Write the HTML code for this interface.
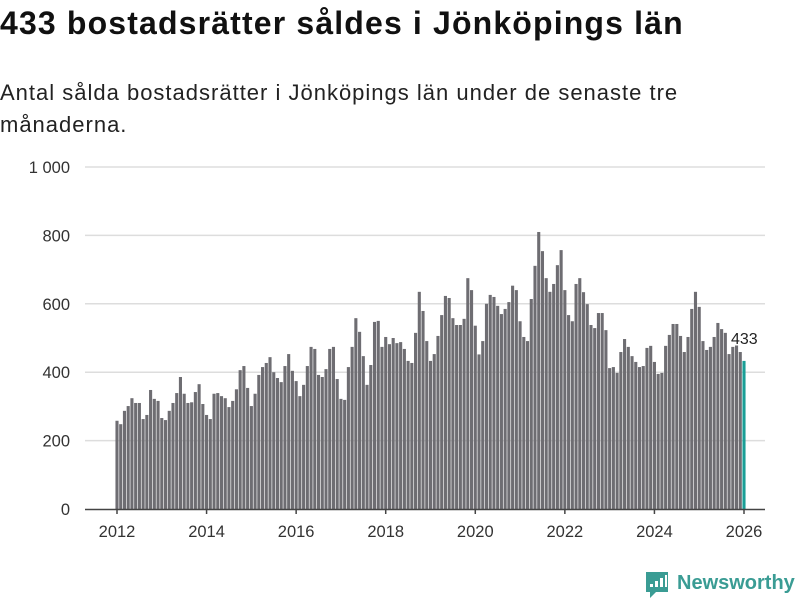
<!DOCTYPE html>
<html><head><meta charset="utf-8"><style>
body{margin:0;background:#fff;width:800px;height:600px;overflow:hidden;font-family:"Liberation Sans","DejaVu Sans",sans-serif;}
h1{position:absolute;left:0;top:5px;margin:0;font-size:32px;font-weight:bold;color:#111;letter-spacing:1.15px;white-space:nowrap}
p.sub{position:absolute;left:0;top:77px;margin:0;font-size:22px;line-height:32px;color:#222;width:700px;letter-spacing:1px}
svg{position:absolute;left:0;top:0}
</style></head><body>
<h1>433 bostadsrätter såldes i Jönköpings län</h1>
<p class="sub">Antal sålda bostadsrätter i Jönköpings län under de senaste tre månaderna.</p>
<svg id="chart" width="800" height="600"></svg>
<script>
const values = [
258,248,287,301,324,310,310,263,275,348,322,316,
266,260,287,310,339,386,337,310,312,342,365,307,
275,263,337,339,330,324,298,316,350,406,418,354,
301,337,392,415,427,444,400,383,371,418,453,404,
374,330,363,418,474,468,392,386,409,468,474,380,
322,319,415,474,558,518,447,363,421,547,550,474,
503,482,500,485,488,468,433,427,515,635,579,491,
433,453,506,567,623,617,558,538,538,556,675,640,
536,452,491,600,626,620,594,570,585,605,653,640,
549,503,491,614,711,810,754,675,635,658,713,757,
640,567,549,658,675,634,599,538,529,573,573,523,
412,415,398,459,497,474,447,430,415,418,471,477,
430,395,398,477,509,541,541,506,459,503,585,635,
591,491,465,474,503,544,526,515,453,474,480,459,
433
];
const yTicks = [0,200,400,600,800,1000];
const yTickLabels = ["0","200","400","600","800","1 000"];
const xTickYears = [2012,2014,2016,2018,2020,2022,2024,2026];
const startYear = 2012;

const svg = document.getElementById('chart');
const NS = 'http://www.w3.org/2000/svg';
const y0 = 509, yTop = 167, xFirst = 117, xLast = 744;
const n = values.length;
const step = (xLast - xFirst) / (n - 1);
function yScale(v){ return y0 - v * (y0 - yTop) / 1000; }
function xScale(i){ return xFirst + i * step; }
function mk(tag, attrs){ const e = document.createElementNS(NS, tag); for (const k in attrs) e.setAttribute(k, attrs[k]); svg.appendChild(e); return e; }

yTicks.forEach((t, i) => {
  if (t > 0) {
    const g = mk('line', {x1:85, x2:765, y1:yScale(t), y2:yScale(t), stroke:'#dddddd', 'stroke-width':1.5});
    
    
  }
  const tx = mk('text', {x:70, y:yScale(t) + 6, 'text-anchor':'end', 'font-size':16.5, fill:'#333'});
  tx.textContent = yTickLabels[i];
  
  
});

values.forEach((v, i) => {
  const last = i === n - 1;
  const r = mk('rect', {x:xScale(i) - 1.55, y:yScale(v), width:3.1, height:y0 - yScale(v), fill: last ? '#1a9e96' : '#6e6d72'});
  
  
});

const axis = mk('line', {x1:85, x2:765, y1:y0 + 0.5, y2:y0 + 0.5, stroke:'#444', 'stroke-width':1.5});



xTickYears.forEach(yr => {
  const x = xScale((yr - startYear) * 12);
  const tk = mk('line', {x1:x, x2:x, y1:y0, y2:y0 + 5, stroke:'#444', 'stroke-width':1.5});
  
  
  const t = mk('text', {x:x, y:537, 'text-anchor':'middle', 'font-size':16.5, fill:'#333'});
  t.textContent = yr;
  
  
});

const lastX = xScale(n - 1), lastY = yScale(values[n - 1]);
const lbl = mk('text', {x:lastX - 13, y:lastY - 17, 'font-size':16, fill:'#222', stroke:'#fff', 'stroke-width':3, 'paint-order':'stroke'});
lbl.textContent = values[n - 1];



const logo = mk('g', {});


const p = document.createElementNS(NS, 'path');
p.setAttribute('d', 'M646 572 h22 v20 h-12 l-6 6 v-6 h-4 z');
p.setAttribute('fill', '#3a9c94');
logo.appendChild(p);
[[650,584,3,6],[655,581,3,9],[660,578,3,12],[665,575,2,15]].forEach(b => {
  const r = document.createElementNS(NS, 'rect');
  r.setAttribute('x', b[0]); r.setAttribute('y', b[1]); r.setAttribute('width', b[2]); r.setAttribute('height', b[3] - 3);
  r.setAttribute('fill', '#fff');
  logo.appendChild(r);
});
const lt = document.createElementNS(NS, 'text');
lt.setAttribute('x', 677); lt.setAttribute('y', 589);
lt.setAttribute('font-size', 20); lt.setAttribute('font-weight', 'bold'); lt.setAttribute('fill', '#3a9c94');
lt.textContent = 'Newsworthy';
logo.appendChild(lt);
</script>
</body></html>
